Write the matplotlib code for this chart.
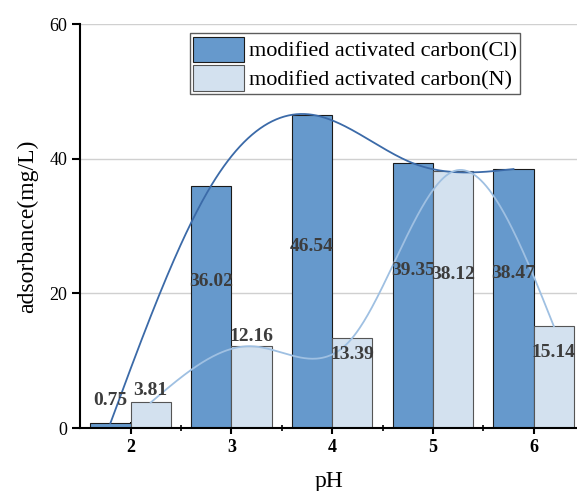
import numpy as np
import matplotlib.pyplot as plt

# data
ph = [2, 3, 4, 5, 6]
cl_vals = [0.75, 36.02, 46.54, 39.35, 38.47]
n_vals = [3.81, 12.16, 13.39, 38.12, 15.14]
cl_label_y = [4.1, 21.8, 27.0, 23.4, 23.0]
n_label_y = [5.6, 13.6, 10.9, 22.8, 11.3]

c_cl = '#6699cc'
c_n = '#d3e1ef'
line_cl = '#3b6aa8'
line_n = '#9fc0e2'
lab_col = '#3c3c3c'


def spline(xs, ys, n=300):
    # natural cubic spline
    xs = np.asarray(xs, float)
    ys = np.asarray(ys, float)
    k = len(xs)
    h = np.diff(xs)
    A = np.zeros((k, k))
    b = np.zeros(k)
    A[0, 0] = A[-1, -1] = 1
    for i in range(1, k - 1):
        A[i, i - 1] = h[i - 1]
        A[i, i] = 2 * (h[i - 1] + h[i])
        A[i, i + 1] = h[i]
        b[i] = 6 * ((ys[i + 1] - ys[i]) / h[i] - (ys[i] - ys[i - 1]) / h[i - 1])
    M = np.linalg.solve(A, b)
    xx = np.linspace(xs[0], xs[-1], n)
    yy = np.zeros_like(xx)
    for j, x in enumerate(xx):
        i = min(np.searchsorted(xs, x, side='right') - 1, k - 2)
        t1 = xs[i + 1] - x
        t0 = x - xs[i]
        yy[j] = (M[i] * t1 ** 3 + M[i + 1] * t0 ** 3) / (6 * h[i]) \
            + (ys[i] / h[i] - M[i] * h[i] / 6) * t1 \
            + (ys[i + 1] / h[i] - M[i + 1] * h[i] / 6) * t0
    return xx, yy


plt.rcParams['font.family'] = ['Liberation Serif', 'DejaVu Serif']

fig = plt.figure(figsize=(5.77, 4.91), dpi=100)
ax = fig.add_axes([0.139, 0.128, 0.861, 0.823])

x = np.array(ph, float)
w = 0.4
ax.bar(x - w / 2, cl_vals, width=w, color=c_cl, edgecolor='#1a1a1a', linewidth=0.8,
       label='modified activated carbon(Cl)', zorder=2)
ax.bar(x + w / 2, n_vals, width=w, color=c_n, edgecolor='#555555', linewidth=0.8,
       label='modified activated carbon(N)', zorder=2)

xx, yy = spline(x - w / 2, cl_vals)
ax.plot(xx, yy, color=line_cl, lw=1.3, zorder=3)
xx, yy = spline(x + w / 2, n_vals)
ax.plot(xx, yy, color=line_n, lw=1.3, zorder=3)

for xi, v, ly in zip(x - w / 2, cl_vals, cl_label_y):
    ax.text(xi, ly, f'{v:.2f}', ha='center', va='center', fontsize=14,
            fontweight='bold', color=lab_col, zorder=4)
for xi, v, ly in zip(x + w / 2, n_vals, n_label_y):
    ax.text(xi, ly, f'{v:.2f}', ha='center', va='center', fontsize=14,
            fontweight='bold', color=lab_col, zorder=4)

ax.set_xlim(1.5, 6.43)
ax.set_ylim(0, 60)
ax.set_yticks([0, 20, 40, 60])
ax.set_xticks(ph)
ax.set_xticks([2.5, 3.5, 4.5, 5.5], minor=True)
ax.yaxis.grid(True, color='#d0d0d0', lw=1, zorder=0)
ax.set_axisbelow(True)

for s in ['top', 'right']:
    ax.spines[s].set_visible(False)
for s in ['left', 'bottom']:
    ax.spines[s].set_linewidth(1.5)

ax.tick_params(axis='y', direction='out', length=6, width=1.5, labelsize=13)
ax.tick_params(axis='x', which='major', direction='inout', length=8, width=1.5, labelsize=13)
ax.tick_params(axis='x', which='minor', direction='inout', length=4, width=1.2)
for t in ax.get_xticklabels():
    t.set_fontweight('bold')

ax.set_xlabel('pH', fontsize=17, labelpad=11)
ax.set_ylabel('adsorbance(mg/L)', fontsize=17, labelpad=8)

leg = ax.legend(loc='upper left', bbox_to_anchor=(0.221, 0.977), fontsize=16,
                frameon=True, fancybox=False, edgecolor='#333333',
                handlelength=2.3, handleheight=1.4, borderpad=0.15,
                labelspacing=0.12, handletextpad=0.2, borderaxespad=0)
leg.get_frame().set_linewidth(1.0)

fig.savefig('out.png', dpi=100)
